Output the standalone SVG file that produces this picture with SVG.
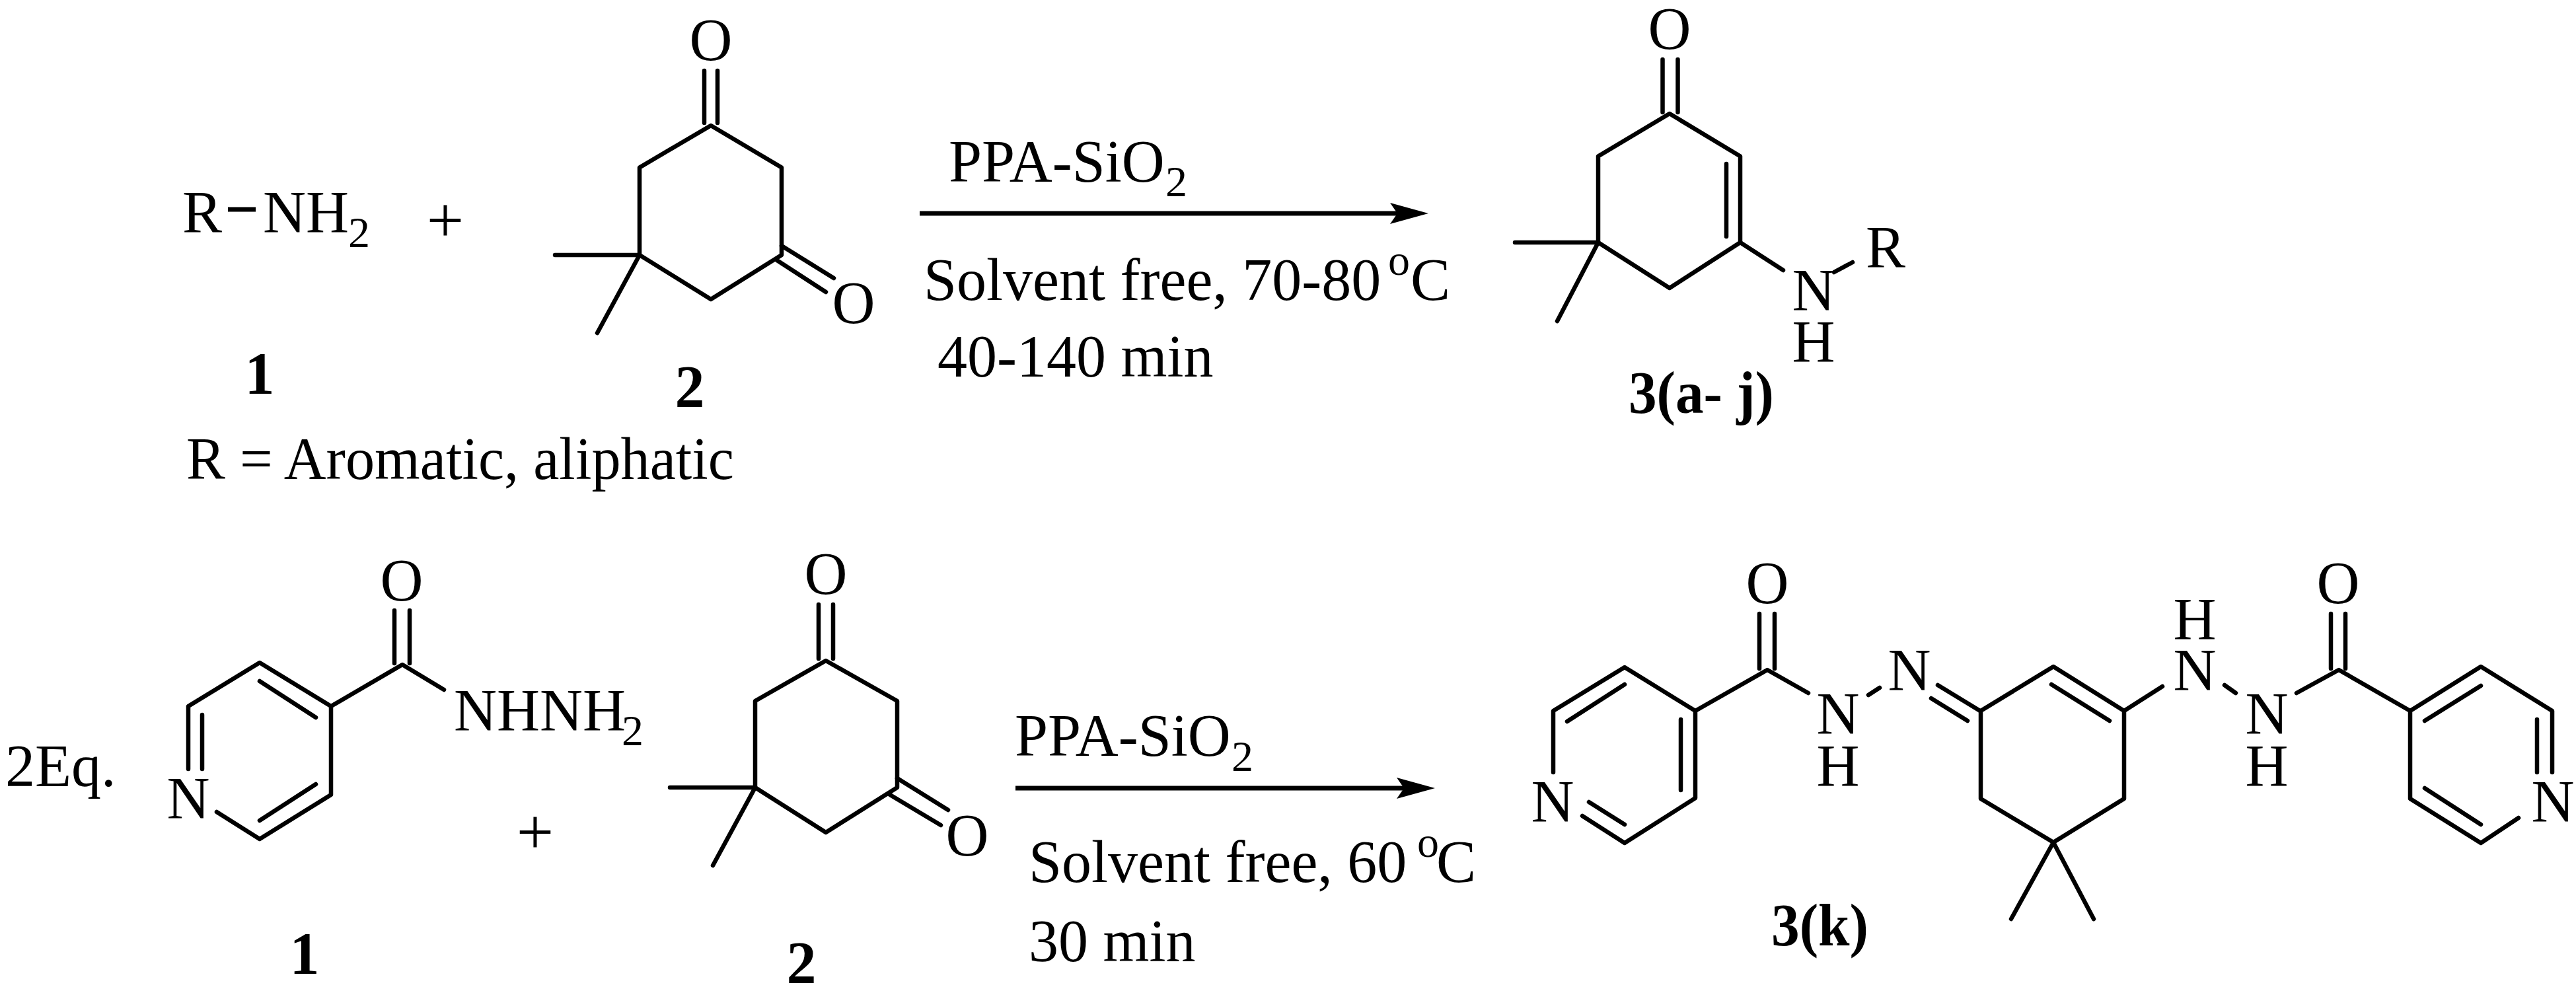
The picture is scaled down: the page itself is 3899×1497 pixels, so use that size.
<svg xmlns="http://www.w3.org/2000/svg" width="3899" height="1497" viewBox="0 0 3899 1497">
<style>
text{font-family:"Liberation Serif","Times New Roman",serif;fill:#000;font-size:90px}
.m{text-anchor:middle}
.b{font-weight:bold}
.s{font-size:66px}
.b2{fill:none;stroke:#000;stroke-width:6.500;stroke-linecap:round;stroke-linejoin:round}
.a{fill:none;stroke:#000;stroke-width:7}
</style>
<defs>
<marker id="ah" markerUnits="userSpaceOnUse" markerWidth="58" markerHeight="34" viewBox="0 0 58 34" refX="11" refY="17" orient="auto"><path d="M0 1L58 17L0 33L11 17Z" fill="#000"/></marker>
</defs>
<rect width="3899" height="1497" fill="#fff"/>

<g id="connectors">
<path class="a" d="M1392 323H2115" marker-end="url(#ah)"/>
<path class="a" d="M1537 1193H2125" marker-end="url(#ah)"/>
</g>

<g id="amine-1">
<text x="276" y="352">R</text>
<path d="M345 317H387" fill="none" stroke="#000" stroke-width="7"/>
<text x="398" y="352">NH<tspan class="s" x="527" y="374">2</tspan></text>
<text class="m b" x="393" y="596">1</text>
<text x="282" y="725" textLength="829" lengthAdjust="spacingAndGlyphs">R = Aromatic, aliphatic</text>
</g>
<text id="plus-1" class="m" style="font-size:100px" x="674" y="367">+</text>

<g id="dione-2a">
<path class="b2" d="M1076 190L1183 253.500V386L1076 453L968 386V253.500Z"/>
<path class="b2" d="M1066 107V186M1086 107V186"/>
<path class="b2" d="M1183 372L1262 421M1176 394L1250 442"/>
<path class="b2" d="M968 386H840M968 386L904 504"/>
<text class="m" x="1076" y="91">O</text>
<text class="m" x="1292" y="489">O</text>
<text class="m b" x="1044" y="616">2</text>
</g>

<g id="conditions-1">
<text x="1436" y="275">PPA-SiO<tspan class="s" x="1764" y="297">2</tspan></text>
<text x="1398" y="454">Solvent free, 70-80 <tspan class="s" x="2101" y="416">o</tspan><tspan x="2135" y="454">C</tspan></text>
<text x="1419" y="570">40-140 min</text>
</g>

<g id="product-3a-j">
<path class="b2" d="M2527 172L2634 236.500V367L2527 436L2419 367V236.500Z"/>
<path class="b2" d="M2516.500 90V170M2539.500 90V170"/>
<path class="b2" d="M2613 248V358"/>
<path class="b2" d="M2419 367H2293M2419 367L2357 486"/>
<path class="b2" d="M2634 367L2699 409M2776 412L2804 397"/>
<text class="m" x="2527" y="74">O</text>
<text class="m" x="2745" y="470">N</text>
<text class="m" x="2745" y="548">H</text>
<text x="2824" y="405">R</text>
<text class="b" x="2465" y="625" textLength="220" lengthAdjust="spacingAndGlyphs">3(a- j)</text>
</g>

<text id="eq" x="8" y="1190">2Eq.</text>

<g id="hydrazide-1">
<path class="b2" d="M285 1164V1069L393 1003L501 1069V1203L393 1270L328 1229"/>
<path class="b2" d="M306 1082V1164M393 1031L478 1086M478 1187L393 1242"/>
<path class="b2" d="M501 1069L609 1006L672 1044M597 924V1004M620 924V1004"/>
<text class="m" x="285" y="1239">N</text>
<text class="m" x="608" y="909">O</text>
<text x="687" y="1106">NHNH<tspan class="s" x="941" y="1128">2</tspan></text>
<text class="m b" x="461" y="1474">1</text>
</g>
<text id="plus-2" class="m" style="font-size:100px" x="810" y="1293">+</text>

<g id="dione-2b">
<path class="b2" d="M1250 1000L1358 1061V1192L1250 1260L1143 1192V1061Z"/>
<path class="b2" d="M1239 915V997M1261 915V997"/>
<path class="b2" d="M1358 1178L1435 1226M1347 1203L1424 1249"/>
<path class="b2" d="M1143 1192H1014M1143 1192L1079 1310"/>
<text class="m" x="1250" y="899">O</text>
<text class="m" x="1464" y="1295">O</text>
<text class="m b" x="1213" y="1488">2</text>
</g>

<g id="conditions-2">
<text x="1536" y="1144">PPA-SiO<tspan class="s" x="1864" y="1167">2</tspan></text>
<text x="1557" y="1335">Solvent free, 60 <tspan class="s" x="2145" y="1297">o</tspan><tspan x="2174" y="1335">C</tspan></text>
<text x="1557" y="1455">30 min</text>
</g>

<g id="product-3k">
<path class="b2" d="M2351 1169V1076L2459 1010L2566 1076V1208L2459 1276L2395 1235"/>
<path class="b2" d="M2459 1036L2372 1092M2544 1089V1196M2405 1214L2459 1248"/>
<path class="b2" d="M2566 1076L2675 1014L2737 1049M2663 929V1012M2686 929V1012"/>
<path class="b2" d="M2828 1052L2845 1041M2933 1037L2997 1076M2923 1057L2978 1091"/>
<path class="b2" d="M2998 1076L3108 1009L3215 1076V1209L3108 1275L2998 1209Z"/>
<path class="b2" d="M3105 1036L3193 1091M3215 1076L3273 1039"/>
<path class="b2" d="M3108 1275L3044 1391M3108 1275L3169 1391"/>
<path class="b2" d="M3367 1037L3384 1049M3476 1049L3540 1014L3648 1076M3528 929V1012M3550 929V1012"/>
<path class="b2" d="M3648 1076L3755 1009L3863 1076V1169M3648 1076V1209L3755 1276L3812 1238"/>
<path class="b2" d="M3670 1091L3755 1038M3840 1089V1169M3670 1193L3755 1248"/>
<text class="m" x="2350" y="1244">N</text>
<text class="m" x="2675" y="913">O</text>
<text class="m" x="2782" y="1111">N</text>
<text class="m" x="2782" y="1190">H</text>
<text class="m" x="2890" y="1045">N</text>
<text class="m" x="3322" y="968">H</text>
<text class="m" x="3322" y="1045">N</text>
<text class="m" x="3431" y="1111">N</text>
<text class="m" x="3431" y="1190">H</text>
<text class="m" x="3539" y="913">O</text>
<text class="m" x="3864" y="1244">N</text>
<text class="b" x="2681" y="1431" textLength="147" lengthAdjust="spacingAndGlyphs">3(k)</text>
</g>
</svg>
